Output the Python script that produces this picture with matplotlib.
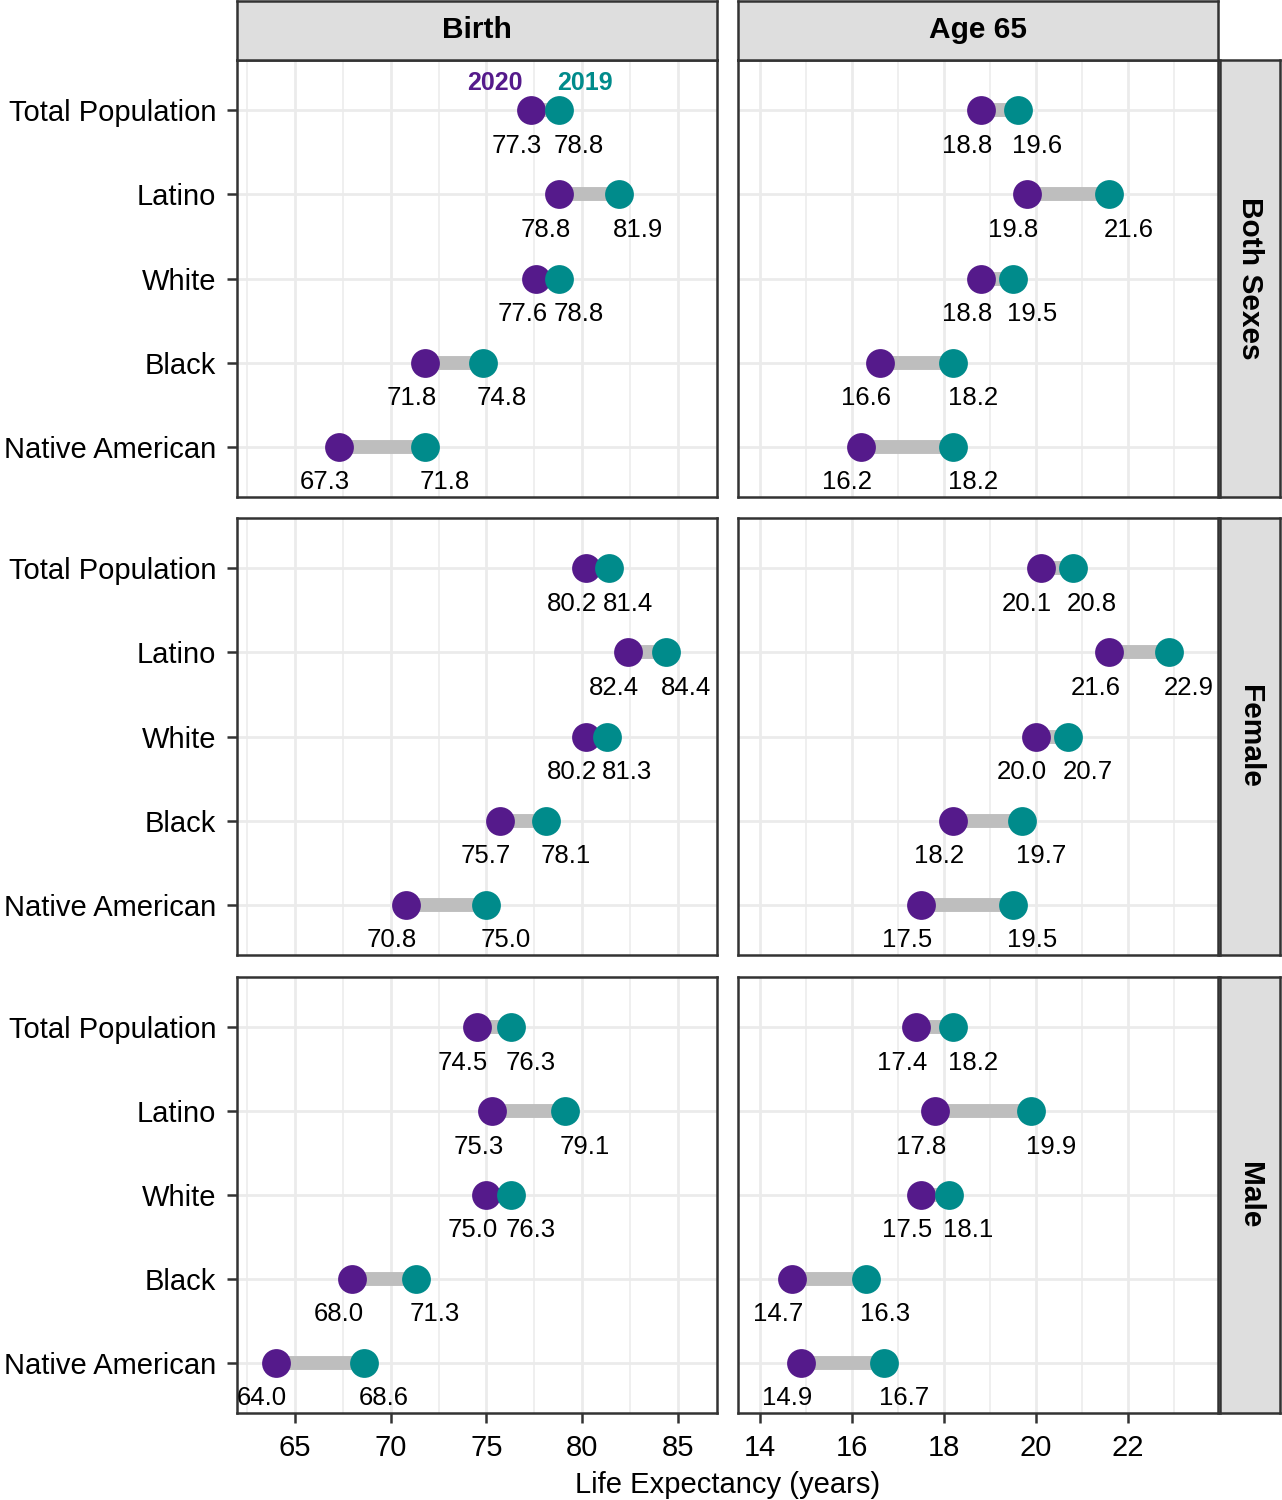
import numpy as np
import matplotlib.pyplot as plt
from matplotlib.ticker import MultipleLocator

plt.rcParams['font.family'] = ['Liberation Sans', 'DejaVu Sans']

groups = ["Total Population", "Latino", "White", "Black", "Native American"]
sexes = ["Both Sexes", "Female", "Male"]
ages = ["Birth", "Age 65"]

# values: [sex][age] -> list per group
le_2020 = {
    ("Both Sexes", "Birth"): [77.3, 78.8, 77.6, 71.8, 67.3],
    ("Both Sexes", "Age 65"): [18.8, 19.8, 18.8, 16.6, 16.2],
    ("Female", "Birth"): [80.2, 82.4, 80.2, 75.7, 70.8],
    ("Female", "Age 65"): [20.1, 21.6, 20.0, 18.2, 17.5],
    ("Male", "Birth"): [74.5, 75.3, 75.0, 68.0, 64.0],
    ("Male", "Age 65"): [17.4, 17.8, 17.5, 14.7, 14.9],
}
le_2019 = {
    ("Both Sexes", "Birth"): [78.8, 81.9, 78.8, 74.8, 71.8],
    ("Both Sexes", "Age 65"): [19.6, 21.6, 19.5, 18.2, 18.2],
    ("Female", "Birth"): [81.4, 84.4, 81.3, 78.1, 75.0],
    ("Female", "Age 65"): [20.8, 22.9, 20.7, 19.7, 19.5],
    ("Male", "Birth"): [76.3, 79.1, 76.3, 71.3, 68.6],
    ("Male", "Age 65"): [18.2, 19.9, 18.1, 16.3, 16.7],
}

col_2020 = "#551A8B"
col_2019 = "#008B8B"
edge = "#333333"

W, H = 1282, 1500
fig = plt.figure(figsize=(W / 100, H / 100), dpi=100)


def box(x0, y0, x1, y1):
    return [x0 / W, 1 - y1 / H, (x1 - x0) / W, (y1 - y0) / H]


col_x = [(237, 717), (738, 1218)]
row_y = [(60, 497), (518, 955), (977, 1413)]
xlims = {"Birth": (61.97, 87.04), "Age 65": (13.52, 23.96)}
major = {"Birth": 5, "Age 65": 2}
minor = {"Birth": 2.5, "Age 65": 1}

ypos = np.arange(len(groups))

for r, sex in enumerate(sexes):
    for c, age in enumerate(ages):
        x0, x1 = col_x[c]
        y0, y1 = row_y[r]
        ax = fig.add_axes(box(x0, y0, x1, y1))
        v20 = le_2020[(sex, age)]
        v19 = le_2019[(sex, age)]
        ax.hlines(ypos, v20, v19, color="#BEBEBE", lw=10, zorder=2)
        ax.scatter(v20, ypos, s=430, color=col_2020, zorder=3, linewidths=0)
        ax.scatter(v19, ypos, s=430, color=col_2019, zorder=4, linewidths=0)
        for i in range(len(groups)):
            ax.annotate(f"{v20[i]:.1f}", (v20[i], ypos[i]), xytext=(-10, -25.5),
                        textcoords="offset points", ha="center", va="center",
                        fontsize=18.5, color="black")
            ax.annotate(f"{v19[i]:.1f}", (v19[i], ypos[i]), xytext=(14, -25.5),
                        textcoords="offset points", ha="center", va="center",
                        fontsize=18.5, color="black")
        if r == 0 and c == 0:
            ax.annotate("2020", (v20[0], ypos[0]), xytext=(-26, 19.5),
                        textcoords="offset points", ha="center", va="center",
                        fontsize=18, fontweight="bold", color=col_2020)
            ax.annotate("2019", (v19[0], ypos[0]), xytext=(18.7, 19.5),
                        textcoords="offset points", ha="center", va="center",
                        fontsize=18, fontweight="bold", color=col_2019)

        ax.set_xlim(*xlims[age])
        ax.set_ylim(4.6, -0.6)
        ax.xaxis.set_major_locator(MultipleLocator(major[age]))
        ax.xaxis.set_minor_locator(MultipleLocator(minor[age]))
        ax.set_yticks(ypos)
        ax.grid(which="major", color="#EBEBEB", lw=2.0, zorder=0)
        ax.grid(which="minor", axis="x", color="#EBEBEB", lw=1.1, zorder=0)
        ax.set_axisbelow(True)
        for s in ax.spines.values():
            s.set_color(edge)
            s.set_linewidth(1.8)
        ax.tick_params(which="minor", length=0)
        ax.tick_params(which="major", length=7, width=1.8, color=edge,
                       labelsize=21, labelcolor="black", pad=8)
        if c == 0:
            ax.set_yticklabels(groups)
        else:
            ax.tick_params(axis="y", length=0, labelleft=False)
        if r < 2:
            ax.tick_params(axis="x", length=0, labelbottom=False)

        # top strips
        if r == 0:
            st = fig.add_axes(box(x0, 1, x1, y0))
            st.set_facecolor("#DEDEDE")
            st.set_xticks([])
            st.set_yticks([])
            for s in st.spines.values():
                s.set_color(edge)
                s.set_linewidth(1.8)
            st.text(0.5, 0.5, age, ha="center", va="center", fontsize=21.5,
                    fontweight="bold", transform=st.transAxes)
        # right strips
        if c == 1:
            st = fig.add_axes(box(1220, y0, 1280, y1))
            st.set_facecolor("#DEDEDE")
            st.set_xticks([])
            st.set_yticks([])
            for s in st.spines.values():
                s.set_color(edge)
                s.set_linewidth(1.8)
            st.text(0.5, 0.5, sex, ha="center", va="center", fontsize=21.5,
                    fontweight="bold", rotation=-90, transform=st.transAxes)

fig.text(727.5 / W, 1 - 1485 / H, "Life Expectancy (years)", ha="center",
         va="center", fontsize=21, color="black")

fig.savefig("out.png", dpi=100)
